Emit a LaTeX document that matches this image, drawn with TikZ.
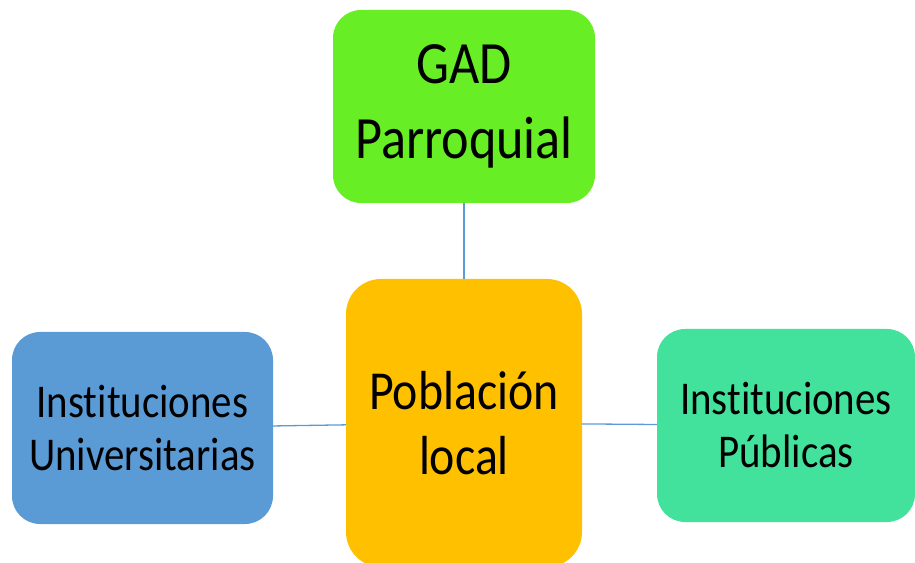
\documentclass[tikz,border=0pt]{standalone}
\usepackage{fontspec}
\setmainfont{Carlito}[FakeStretch=0.87, Ligatures=NoCommon]
\definecolor{gadgreen}{HTML}{67EE24}
\definecolor{poborange}{HTML}{FFC000}
\definecolor{unibblue}{HTML}{5B9BD5}
\definecolor{pubgreen}{HTML}{43E29C}
\definecolor{linkblue}{HTML}{5B9BD5}
\begin{document}
\begin{tikzpicture}[x=1pt, y=1pt,
        box/.style = {rounded corners=28pt, inner sep=0pt, align=center, text=black},
        link/.style = {draw=linkblue, line width=1.3pt}]
            \useasboundingbox (0,0) rectangle (915,562);
            % Nodes
            \node[box, fill=gadgreen, minimum width=262pt, minimum height=193pt,
                  font=\fontsize{60}{75}\selectfont] (GAD) at (464,455.5) {GAD\\Parroquial};
            \node[box, fill=poborange, rounded corners=35pt, minimum width=236pt, minimum height=288pt,
                  font=\fontsize{55}{65}\selectfont] (PL) at (464,139) {Población\\local};
            \node[box, fill=unibblue, minimum width=261pt, minimum height=192pt,
                  font=\fontsize{47}{53}\selectfont] (IU) at (142.5,134) {Instituciones\\Universitarias};
            \node[box, fill=pubgreen, minimum width=258pt, minimum height=193pt,
                  font=\fontsize{47}{53}\selectfont] (IP) at (786,136.5) {Instituciones\\Públicas};

            \draw[link] (GAD) to (PL);
            \draw[link] (IU) to (PL);
            \draw[link] (PL) to (IP);
        \end{tikzpicture}
\end{document}
